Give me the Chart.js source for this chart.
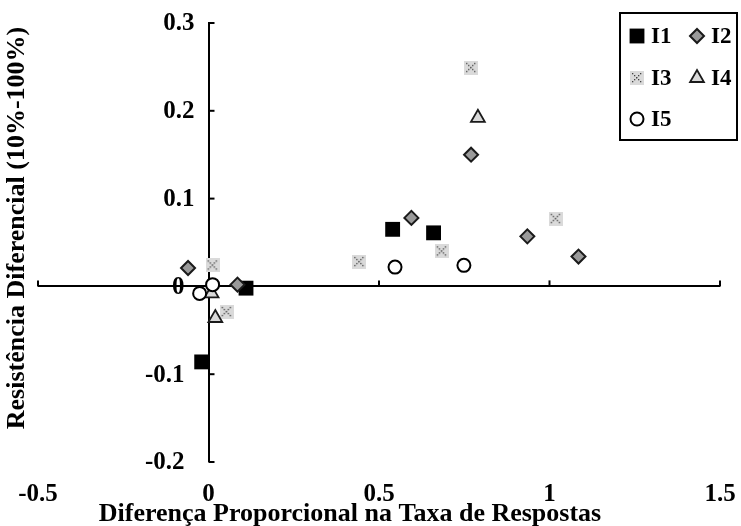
<!DOCTYPE html>
<html>
<head>
<meta charset="utf-8">
<script src="https://cdn.jsdelivr.net/npm/chart.js@4/dist/chart.umd.min.js"></script>
<style>
  html, body { margin: 0; padding: 0; background: #fff; }
  #chartContainer { width: 741px; height: 526px; }
</style>
</head>
<body>
<div id="chartContainer"><canvas id="resistChart"></canvas></div>
<script>
// Series names
const seriesNames = ["I1", "I2", "I3", "I4", "I5"];

// Values (x = diferença proporcional, y = resistência diferencial)
const i1X = [-0.02, 0.11, 0.54, 0.66];
const i1Y = [-0.086, -0.002, 0.065, 0.061];
const i2X = [-0.06, 0.085, 0.595, 0.77, 0.935, 1.085];
const i2Y = [0.021, 0.002, 0.078, 0.150, 0.057, 0.034];
const i3X = [0.012, 0.053, 0.442, 0.684, 0.77, 1.018];
const i3Y = [0.024, -0.029, 0.028, 0.040, 0.249, 0.077];
const i4X = [0.009, 0.02, 0.79];
const i4Y = [-0.008, -0.036, 0.192];
const i5X = [-0.026, 0.012, 0.547, 0.749];
const i5Y = [-0.008, 0.002, 0.022, 0.024];

// Axis ticks
const xTickValues = [-0.5, 0, 0.5, 1, 1.5];
const xTickLabels = ["-0.5", "0", "0.5", "1", "1.5"];
const yTickValues = [-0.2, -0.1, 0, 0.1, 0.2, 0.3];
const yTickLabels = ["-0.2", "-0.1", "0", "0.1", "0.2", "0.3"];

const xTitle = "Diferença Proporcional na Taxa de Respostas";
const yTitle = "Resistência Diferencial (10%-100%)";

const serif = '"Liberation Serif", "Times New Roman", serif';

function toPoints(xs, ys) {
    return xs.map((x, i) => ({ x: x, y: ys[i] }));
}

function labelFor(values, labels, v) {
    const idx = values.findIndex(t => Math.abs(t - v) < 1e-9);
    return idx >= 0 ? labels[idx] : "";
}

// gray square with a dotted X, like the spreadsheet marker
function makeCrossMarker() {
    const c = document.createElement("canvas");
    c.width = 14;
    c.height = 14;
    const g = c.getContext("2d");
    g.fillStyle = "#dadada";
    g.fillRect(0, 0, 14, 14);
    g.fillStyle = "#444";
    for (let i = 2; i <= 11; i += 2) {
        g.fillRect(i, i, 1.3, 1.3);
        g.fillRect(12 - i, i, 1.3, 1.3);
    }
    return c;
}
const crossMarker = makeCrossMarker();

const datasets = [
    { label: seriesNames[0], data: toPoints(i1X, i1Y), pointStyle: "rect", pointRadius: 10.5,
      backgroundColor: "#000", borderColor: "#000", borderWidth: 0, order: 5 },
    { label: seriesNames[1], data: toPoints(i2X, i2Y), pointStyle: "rectRot", pointRadius: 7,
      backgroundColor: "#9a9a9a", borderColor: "#1a1a1a", borderWidth: 2, order: 4 },
    { label: seriesNames[2], data: toPoints(i3X, i3Y), pointStyle: crossMarker, pointRadius: 7,
      backgroundColor: "#dadada", borderColor: "#444", borderWidth: 0, order: 3 },
    { label: seriesNames[3], data: toPoints(i4X, i4Y), pointStyle: "triangle", pointRadius: 8,
      backgroundColor: "#d9d9d9", borderColor: "#1a1a1a", borderWidth: 1.8, order: 2 },
    { label: seriesNames[4], data: toPoints(i5X, i5Y), pointStyle: "circle", pointRadius: 6.5,
      backgroundColor: "#fff", borderColor: "#000", borderWidth: 2, order: 1 }
];

// Y labels next to the crossing axis, titles, small inward tick marks and the boxed legend
const extrasPlugin = {
    id: "extras",
    afterDraw(chart) {
        const ctx = chart.ctx;
        const xs = chart.scales.x;
        const ys = chart.scales.y;
        const x0 = xs.getPixelForValue(0);
        const y0 = ys.getPixelForValue(0);

        ctx.save();
        ctx.strokeStyle = "#000";
        ctx.lineWidth = 2;
        xTickValues.forEach(v => {
            if (v === 0) return;
            const px = xs.getPixelForValue(v);
            ctx.beginPath();
            ctx.moveTo(px, y0);
            ctx.lineTo(px, y0 - 6);
            ctx.stroke();
        });
        yTickValues.forEach(v => {
            if (v === 0) return;
            const py = ys.getPixelForValue(v);
            ctx.beginPath();
            ctx.moveTo(x0, py);
            ctx.lineTo(x0 + 6, py);
            ctx.stroke();
        });

        // y tick labels
        ctx.fillStyle = "#000";
        ctx.font = "bold 25px " + serif;
        ctx.textAlign = "right";
        ctx.textBaseline = "middle";
        yTickValues.forEach((v, i) => {
            const py = ys.getPixelForValue(v);
            ctx.fillText(yTickLabels[i], x0 - (v > 0 ? 14 : 24), py + 1);
        });

        // axis titles
        ctx.font = "bold 26px " + serif;
        ctx.textAlign = "center";
        ctx.textBaseline = "alphabetic";
        ctx.fillText(xTitle, 350, 521);
        ctx.translate(24, 228);
        ctx.rotate(-Math.PI / 2);
        ctx.fillText(yTitle, 0, 0);
        ctx.restore();

        // legend
        ctx.save();
        ctx.strokeStyle = "#000";
        ctx.lineWidth = 2;
        ctx.strokeRect(620, 13, 117, 127);
        const cols = [637, 697];
        const rows = [36, 78, 119];
        ctx.font = "bold 23px " + serif;
        ctx.textAlign = "left";
        ctx.textBaseline = "middle";
        chart.data.datasets.forEach((ds, i) => {
            const cx = cols[i % 2];
            const cy = rows[Math.floor(i / 2)];
            if (ds.pointStyle instanceof HTMLCanvasElement) {
                ctx.drawImage(ds.pointStyle, cx - 7, cy - 7);
            } else if (Chart.helpers && Chart.helpers.drawPoint) {
                ctx.fillStyle = ds.backgroundColor;
                ctx.strokeStyle = ds.borderColor;
                ctx.lineWidth = ds.borderWidth;
                Chart.helpers.drawPoint(ctx, {
                    pointStyle: ds.pointStyle, radius: ds.pointRadius,
                    rotation: 0, borderWidth: ds.borderWidth
                }, cx, cy);
            }
            ctx.fillStyle = "#000";
            ctx.fillText(ds.label, cx + 14, cy + 1);
        });
        ctx.restore();
    }
};

const ctx = document.getElementById("resistChart").getContext("2d");
new Chart(ctx, {
    type: "scatter",
    data: { datasets: datasets },
    options: {
        responsive: true,
        maintainAspectRatio: false,
        animation: false,
        layout: { padding: { top: 23, left: 38, right: 21, bottom: 12 } },
        plugins: {
            legend: { display: false },
            tooltip: { enabled: false }
        },
        scales: {
            x: {
                type: "linear",
                position: "bottom",
                min: -0.5,
                max: 1.5,
                // hidden grid, but its tick length keeps the labels low
                grid: { display: false, drawTicks: true, tickLength: 14 },
                border: { display: false },
                ticks: {
                    stepSize: 0.5,
                    padding: 4,
                    maxRotation: 0,
                    color: "#000",
                    font: { family: serif, size: 25, weight: "bold" },
                    callback: v => labelFor(xTickValues, xTickLabels, v)
                }
            },
            y: {
                type: "linear",
                position: { x: 0 },
                min: -0.2,
                max: 0.3,
                grid: {
                    drawTicks: false,
                    color: c => (c.tick && Math.abs(c.tick.value) < 1e-9 ? "#000" : "rgba(0,0,0,0)"),
                    lineWidth: c => (c.tick && Math.abs(c.tick.value) < 1e-9 ? 2 : 0)
                },
                border: { display: true, color: "#000", width: 2 },
                ticks: { stepSize: 0.1, display: false }
            }
        }
    },
    plugins: [extrasPlugin]
});
</script>
</body>
</html>
